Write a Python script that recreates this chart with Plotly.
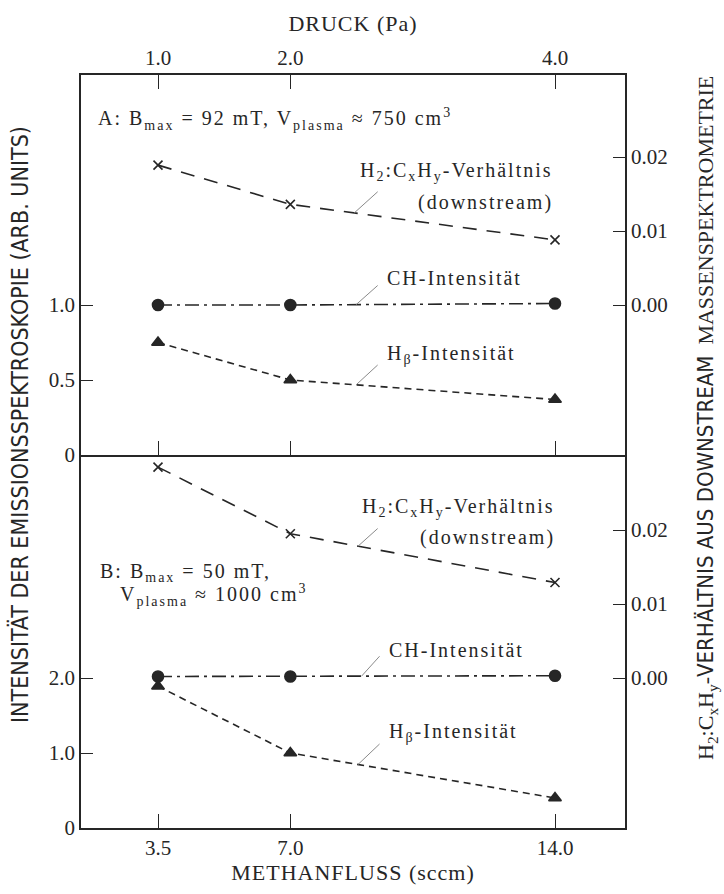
import numpy as np
import plotly.graph_objects as go

# --- data -------------------------------------------------------------
flow = [3.5, 7.0, 14.0]                 # Methanfluss (sccm)
pressure = [1.0, 2.0, 4.0]              # Druck (Pa)
flow_ticks = ["3.5", "7.0", "14.0"]
pressure_ticks = ["1.0", "2.0", "4.0"]

# panel A: B_max = 92 mT
ch_a = [1.0, 1.0, 1.01]
hbeta_a = [0.75, 0.50, 0.37]
ratio_a = [0.0189, 0.0136, 0.0088]

# panel B: B_max = 50 mT
ch_b = [2.02, 2.02, 2.03]
hbeta_b = [1.89, 1.00, 0.40]
ratio_b = [0.0285, 0.0195, 0.0129]

left_ticks_a = [0, 0.5, 1.0]
left_text_a = ["0", "0.5", "1.0"]
left_ticks_b = [0, 1.0, 2.0]
left_text_b = ["0", "1.0", "2.0"]
right_ticks = [0.0, 0.01, 0.02]
right_text = ["0.00", "0.01", "0.02"]

# --- layout geometry (pixels) ----------------------------------------
W, H = 724, 894
L, R, T, B = 81, 625, 75, 828
DIV = 455
X35, X14 = 158, 555          # pixel positions of 3.5 and 14.0 sccm
UNIT_A = 150                 # px per 1.0 (panel A left axis)
UNIT_B = 75                  # px per 1.0 (panel B left axis)
PCT = 7400                   # px per 1.0 on the ratio axes

sx = (X14 - X35) / (14.0 - 3.5)
xr = [3.5 - (X35 - L) / sx, 14.0 + (R - X14) / sx]
dom_b = (B - DIV) / (B - T)

zero_a = DIV - UNIT_A * 1.0        # pixel of ratio 0.00 in panel A
zero_b = B - UNIT_B * 2.0          # pixel of ratio 0.00 in panel B
y3r = [0, (DIV - T) / UNIT_A]
y4r = [-(DIV - zero_a) / PCT, (zero_a - T) / PCT]
y1r = [0, (B - DIV) / UNIT_B]
y2r = [-(B - zero_b) / PCT, (zero_b - DIV) / PCT]

INK = "#262626"
SERIF = "Liberation Serif, Times New Roman, serif"
NARROW = "Liberation Sans Narrow, DejaVu Sans Condensed, sans-serif"


def spaced(text, px):
    return f"<span style='letter-spacing:{px}px'>{text}</span>"


fig = go.Figure()


def series(x, y, xa, ya, dash, symbol, size, lw=1.6):
    fig.add_trace(go.Scatter(
        x=x, y=y, xaxis=xa, yaxis=ya, mode="lines+markers",
        line=dict(color=INK, width=lw, dash=dash),
        marker=dict(symbol=symbol, size=size, color=INK,
                    line=dict(color=INK, width=1.6)),
        showlegend=False, hoverinfo="skip"))


LONG = "14px,10px"
SHORT = "7px,5px"
DASHDOT = "14px,5px,3px,5px"

# panel A
series(flow, ratio_a, "x", "y4", LONG, "x-thin-open", 9)
series(flow, ch_a, "x", "y3", DASHDOT, "circle", 11)
series(flow, hbeta_a, "x", "y3", SHORT, "triangle-up", 11)
# panel B
series(flow, ratio_b, "x", "y2", LONG, "x-thin-open", 9)
series(flow, ch_b, "x", "y", DASHDOT, "circle", 11)
series(flow, hbeta_b, "x", "y", SHORT, "triangle-up", 11)

# carriers for the pressure axis and the divider axis
fig.add_trace(go.Scatter(x=pressure, y=ch_a, xaxis="x2", yaxis="y3",
                         mode="markers", opacity=0, showlegend=False,
                         hoverinfo="skip"))
fig.add_trace(go.Scatter(x=flow, y=ch_a, xaxis="x3", yaxis="y3",
                         mode="markers", opacity=0, showlegend=False,
                         hoverinfo="skip"))

axfont = dict(family=SERIF, size=21, color=INK)
titlefont = dict(family=SERIF, size=22, color=INK)
common = dict(showline=True, linecolor=INK, linewidth=1.5, ticks="inside",
              tickcolor=INK, tickwidth=1.3, showgrid=False,
              zeroline=False, tickfont=axfont)

fig.update_layout(
    width=W, height=H, paper_bgcolor="white", plot_bgcolor="white",
    margin=dict(l=L, r=W - R, t=T, b=H - B),
    xaxis=dict(domain=[0, 1], anchor="y", range=xr, tickvals=flow,
               ticktext=flow_ticks, ticklen=14,
               title=dict(text=spaced("METHANFLUSS (sccm)", 1), standoff=6,
                          font=titlefont), **common),
    xaxis2=dict(overlaying="x", anchor="y3", side="top",
                range=[v / 3.5 for v in xr], tickvals=pressure,
                ticktext=pressure_ticks, ticklen=14,
                title=dict(text=spaced("DRUCK (Pa)", 1), standoff=8,
                           font=titlefont), **common),
    xaxis3=dict(overlaying="x", anchor="y3", side="bottom", range=xr,
                tickvals=flow, showticklabels=False, ticklen=14, **common),
    yaxis=dict(domain=[0, dom_b], anchor="x", range=y1r, ticklen=12,
               tickvals=left_ticks_b, ticktext=left_text_b, **common),
    yaxis2=dict(overlaying="y", anchor="x", side="right", range=y2r,
                ticklen=12, tickvals=right_ticks, ticktext=right_text,
                **common),
    yaxis3=dict(domain=[dom_b, 1], anchor="x", range=y3r, ticklen=12,
                tickvals=left_ticks_a, ticktext=left_text_a, **common),
    yaxis4=dict(overlaying="y3", anchor="x", side="right", range=y4r,
                ticklen=12, tickvals=right_ticks, ticktext=right_text,
                **common),
)

# --- labels with leader lines ----------------------------------------
lab = dict(family=SERIF, size=20, color=INK)


def label(text, x, y, yref, anchor="left"):
    fig.add_annotation(text=spaced(text, 2), x=x, y=y, xref="x", yref=yref,
                       xanchor=anchor, yanchor="middle", showarrow=False,
                       font=lab)


def leader(x0, series_y, x1, y1, yref):
    y0 = float(np.interp(x0, flow, series_y))
    fig.add_shape(type="line", x0=x0, y0=y0, x1=x1, y1=y1,
                  xref="x", yref=yref, line=dict(color="#8a8a8a", width=1))


H2LBL = "H<sub>2</sub>:C<sub>x</sub>H<sub>y</sub>-Verhältnis"

# panel A
label("A: B<sub>max</sub> = 92 mT, V<sub>plasma</sub> ≈ 750 cm<sup>3</sup>",
      1.85, 0.0251, "y4")
label(H2LBL, 14.0, 0.0180, "y4", anchor="right")
label("(downstream)", 14.0, 0.0138, "y4", anchor="right")
leader(8.69, ratio_a, 9.31, 0.0153, "y4")
label("CH-Intensität", 9.5, 1.18, "y3")
leader(8.74, ch_a, 9.31, 1.13, "y3")
label("H<sub>β</sub>-Intensität", 9.5, 0.67, "y3")
leader(8.74, hbeta_a, 9.31, 0.60, "y3")

# panel B
label(H2LBL, 14.05, 0.0231, "y2", anchor="right")
label("(downstream)", 14.05, 0.0190, "y2", anchor="right")
leader(8.79, ratio_b, 9.31, 0.0202, "y2")
label("B: B<sub>max</sub> = 50 mT,", 1.92, 0.0142, "y2")
label("V<sub>plasma</sub> ≈ 1000 cm<sup>3</sup>", 2.44, 0.0112, "y2")
label("CH-Intensität", 9.55, 2.37, "y")
leader(8.88, ch_b, 9.36, 2.29, "y")
label("H<sub>β</sub>-Intensität", 9.55, 1.27, "y")
leader(8.79, hbeta_b, 9.36, 1.12, "y")

# --- axis titles spanning both panels --------------------------------
def px_x(p):
    return (p - L) / (R - L)


def px_y(p):
    return (B - p) / (B - T)


fig.add_annotation(
    text="INTENSITÄT DER EMISSIONSSPEKTROSKOPIE (ARB. UNITS)",
    x=px_x(19), y=px_y(425), xref="paper", yref="paper", textangle=-90,
    xanchor="center", yanchor="middle", showarrow=False,
    font=dict(family=NARROW, size=23, color=INK))

fig.add_annotation(
    text=("H<sub>2</sub>:C<sub>x</sub>H<sub>y</sub>-"
          f"<span style='font-family:{NARROW}'>VERHÄLTNIS AUS DOWNSTREAM</span>"
          "  MASSENSPEKTROMETRIE"),
    x=px_x(707), y=px_y(418), xref="paper", yref="paper", textangle=-90,
    xanchor="center", yanchor="middle", showarrow=False,
    font=dict(family=SERIF, size=22, color=INK))

fig.write_html("out.html")
